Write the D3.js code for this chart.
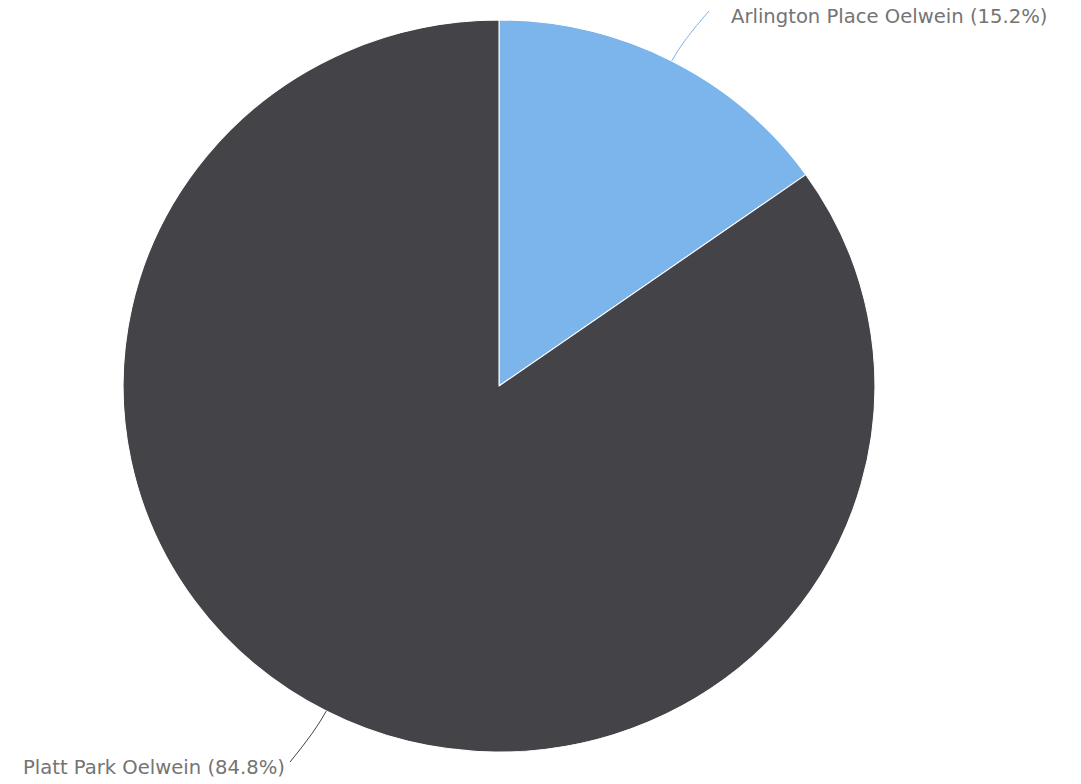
<!DOCTYPE html>
<html>
<head>
<meta charset="utf-8">
<script src="https://cdn.jsdelivr.net/npm/d3@7"></script>
<style>
  body { margin: 0; background: #fff; }
  svg { display: block; }
</style>
</head>
<body>
<script>
// data
var names = ["Arlington Place Oelwein", "Platt Park Oelwein"];
var shares = [15.2, 84.8];
var colors = ["#7cb5ec", "#434348"];

var w = 1081, h = 784;
var cx = 499, cy = 386;
var r = 366;
var sx = 1.027; // the picture is a little wider than tall

var svg = d3.select("body").append("svg")
  .attr("width", w)
  .attr("height", h);

var pieData = d3.pie().sort(null).value(function(d){ return d.v })(
  names.map(function(n, i){ return {name: n, v: shares[i], color: colors[i]} })
);

var arc = d3.arc().innerRadius(0).outerRadius(r);

var g = svg.append("g")
  .attr("transform", "translate(" + cx + "," + cy + ") scale(" + sx + ",1)");

g.selectAll("path.slice")
  .data(pieData)
  .enter()
  .append("path")
  .attr("class", "slice")
  .attr("d", arc)
  .attr("fill", function(d){ return d.data.color })
  .attr("stroke", "#fff")
  .attr("stroke-width", 1)
  .attr("stroke-linejoin", "round");

// label end points (where the connector stops), relative to the centre
var labelEnds = [[210, -375], [-209, 376]];

pieData.forEach(function(d, i){
  var a = (d.startAngle + d.endAngle) / 2;
  var x0 = cx + r * sx * Math.sin(a), y0 = cy - r * Math.cos(a);
  var x1 = cx + (r + 22) * sx * Math.sin(a), y1 = cy - (r + 22) * Math.cos(a);
  var ex = cx + labelEnds[i][0], ey = cy + labelEnds[i][1];
  var right = Math.sin(a) > 0;

  svg.append("path")
    .attr("d", "M" + x0 + "," + y0 + " Q" + x1 + "," + y1 + " " + ex + "," + ey)
    .attr("fill", "none")
    .attr("stroke", d.data.color)
    .attr("stroke-width", 1);

  svg.append("text")
    .attr("x", right ? ex + 22 : ex - 5)
    .attr("y", ey + 12)
    .attr("text-anchor", right ? "start" : "end")
    .attr("font-family", "DejaVu Sans, sans-serif")
    .attr("font-size", 19.6)
    .attr("fill", "#747474")
    .text(d.data.name + " (" + d.data.v.toFixed(1) + "%)");
});
</script>
</body>
</html>
